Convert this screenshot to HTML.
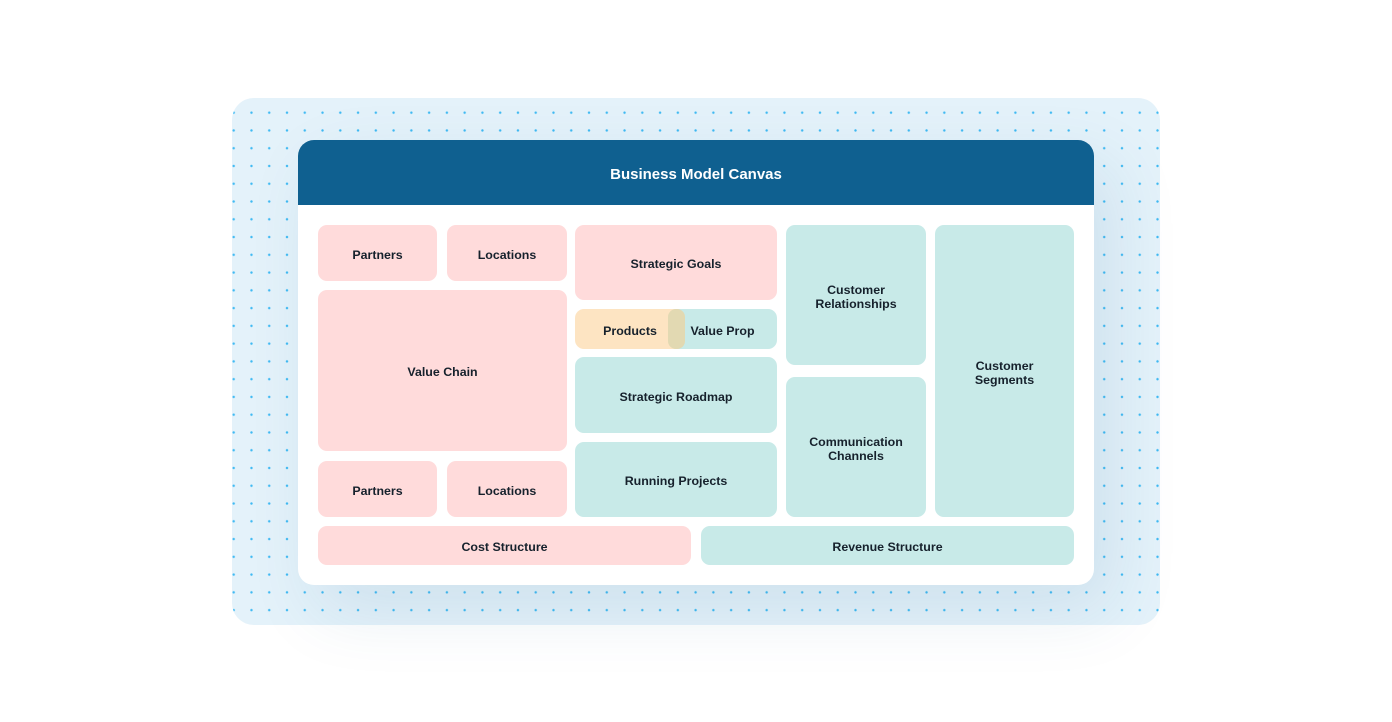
<!DOCTYPE html>
<html>
<head>
<meta charset="utf-8">
<style>
  html,body{margin:0;padding:0;}
  body{width:1392px;height:722px;background:#ffffff;position:relative;overflow:hidden;
    font-family:"Liberation Sans",Arial,sans-serif;}
  .panel{position:absolute;left:232px;top:98px;width:928px;height:527px;border-radius:22px;
    background-color:#e4f2fa;
    background-image:radial-gradient(circle, #3fbaf3 0px, #3fbaf3 0.9px, rgba(63,186,243,0) 1.5px);
    background-size:17.77px 17.77px;
    background-position:-7.2px 5.8px;}
  .card{position:absolute;left:298px;top:140px;width:796px;height:445px;border-radius:16px;
    background:#ffffff;overflow:hidden;
    box-shadow:18px 26px 70px rgba(30,90,140,0.11);}
  .hdr{position:absolute;left:0;top:0;width:796px;height:65px;background:#0f6090;
    color:#fff;font-weight:bold;font-size:15px;text-align:center;line-height:69px;}
  .b{position:absolute;border-radius:9px;display:flex;align-items:center;justify-content:center;
    text-align:center;font-weight:bold;font-size:12.4px;line-height:14px;color:#16212c;
    box-sizing:border-box;padding-top:3px;}
  .p{background:#ffdbdb;}
  .t{background:#c8eae8;}
  .o{background:#fde4c2;}
  .x{background:#e2d9b2;}
</style>
</head>
<body>
<div class="panel"></div>
<div class="card">
  <div class="hdr">Business Model Canvas</div>
</div>

<!-- left column -->
<div class="b p" style="left:318px;top:225px;width:119px;height:56px;">Partners</div>
<div class="b p" style="left:447px;top:225px;width:120px;height:56px;">Locations</div>
<div class="b p" style="left:318px;top:290px;width:249px;height:161px;">Value Chain</div>
<div class="b p" style="left:318px;top:461px;width:119px;height:56px;">Partners</div>
<div class="b p" style="left:447px;top:461px;width:120px;height:56px;">Locations</div>

<!-- middle column -->
<div class="b p" style="left:575px;top:225px;width:202px;height:75px;">Strategic Goals</div>
<div class="b t" style="left:668px;top:309px;width:109px;height:40px;">Value Prop</div>
<div class="b o" style="left:575px;top:309px;width:110px;height:40px;">Products</div>
<div class="b x" style="left:668px;top:309px;width:17px;height:40px;border-radius:8px;"></div>
<div class="b t" style="left:575px;top:357px;width:202px;height:76px;">Strategic Roadmap</div>
<div class="b t" style="left:575px;top:442px;width:202px;height:75px;">Running Projects</div>

<!-- right columns -->
<div class="b t" style="left:786px;top:225px;width:140px;height:140px;">Customer<br>Relationships</div>
<div class="b t" style="left:786px;top:377px;width:140px;height:140px;">Communication<br>Channels</div>
<div class="b t" style="left:935px;top:225px;width:139px;height:292px;">Customer<br>Segments</div>

<!-- bottom row -->
<div class="b p" style="left:318px;top:526px;width:373px;height:39px;">Cost Structure</div>
<div class="b t" style="left:701px;top:526px;width:373px;height:39px;">Revenue Structure</div>
</body>
</html>
